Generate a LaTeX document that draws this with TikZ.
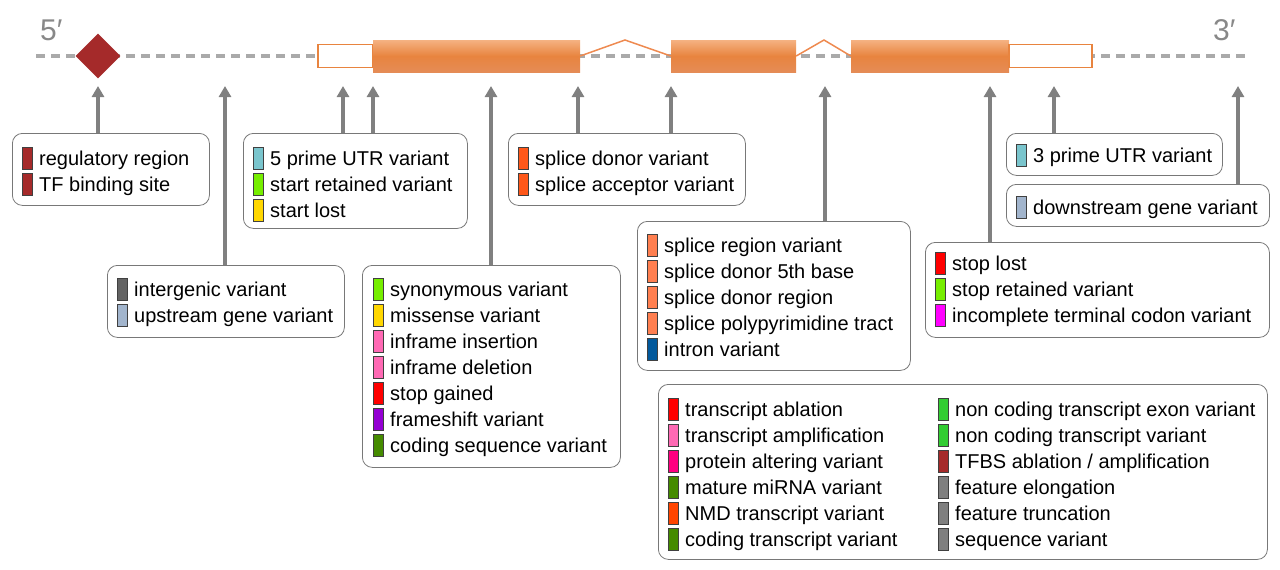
\documentclass[tikz,border=0pt]{standalone}
\usepackage{fontspec}
\setmainfont{Liberation Sans}
\usepackage{tikz}
\usetikzlibrary{arrows.meta}
\usetikzlibrary{shapes.geometric}
\usepackage{xcolor}
\definecolor{ColTrack}{RGB}{170,170,170}
\definecolor{ColPrime}{RGB}{136,136,136}
\definecolor{ColPointer}{RGB}{128,128,128}
\definecolor{ColFrame}{RGB}{120,120,120}
\definecolor{ColExon}{RGB}{232,132,63}
\definecolor{ColExonTop}{RGB}{245,178,130}
\definecolor{ColExonBot}{RGB}{229,140,86}
\definecolor{ColIntron}{RGB}{238,138,80}
\definecolor{ColReg}{RGB}{165,42,42}
\definecolor{ColUtr}{RGB}{122,197,205}
\definecolor{ColStart}{RGB}{118,238,0}
\definecolor{ColGold}{RGB}{255,215,0}
\definecolor{ColInter}{RGB}{99,99,99}
\definecolor{ColStream}{RGB}{162,181,205}
\definecolor{ColPink}{RGB}{255,105,180}
\definecolor{ColRed}{RGB}{255,0,0}
\definecolor{ColViolet}{RGB}{148,0,211}
\definecolor{ColCoding}{RGB}{69,139,0}
\definecolor{ColSplice}{RGB}{255,88,26}
\definecolor{ColCoral}{RGB}{255,127,80}
\definecolor{ColIntronVar}{RGB}{2,89,156}
\definecolor{ColMagenta}{RGB}{255,0,255}
\definecolor{ColProtein}{RGB}{255,0,128}
\definecolor{ColNmd}{RGB}{255,69,0}
\definecolor{ColNonCoding}{RGB}{50,205,50}
\definecolor{ColFeature}{RGB}{127,127,127}
\tikzstyle{Track}=[ColTrack,line width=3.5pt,dash pattern=on 9pt off 6pt]
\tikzstyle{Exon}=[rectangle,inner sep=0pt,top color=ColExonTop,bottom color=ColExonBot,
middle color=ColExon,minimum height=32pt]
\tikzstyle{Utr}=[rectangle,inner sep=0pt,draw=ColExon,fill=white,line width=1.5pt,minimum height=23pt]
\tikzstyle{Intron}=[ColIntron,line width=1.5pt]
\tikzstyle{Regulator}=[diamond,fill=ColReg,inner sep=0pt,minimum width=45pt,minimum height=45pt]
\tikzstyle{Prime}=[ColPrime,anchor=base west,inner sep=0pt,font=\fontsize{30}{30}\selectfont]
\tikzstyle{Pointer}=[ColPointer,line width=4pt,-{Triangle[length=11pt,width=12pt]}]
\tikzstyle{LegendBox}=[rectangle,draw=ColFrame,line width=0.8pt,rounded corners=10pt,
anchor=north west,inner sep=0pt]
\tikzstyle{Swatch}=[rectangle,draw=black!75,line width=0.7pt,inner sep=0pt,minimum width=10pt,
minimum height=22pt]
\tikzstyle{ItemText}=[anchor=base west,inner sep=0pt,font=\fontsize{20}{24}\selectfont]
\newcommand{\LegendItems}[4]{%
  \foreach \c/\t [count=\i] in {#4} {
    \node[Swatch,fill=\c](#1-s\i)at({#2+15},{#3+26*(\i-1)}){};
    \node[ItemText](#1-t\i)at({#2+27},{#3+7+26*(\i-1)}){\t};
  }}

\begin{document}
\begin{tikzpicture}[x=1pt,y=-1pt]
        \useasboundingbox (0,0) rectangle (1280,570);
        % gene track
        \coordinate (TrackL) at (36,56);
        \coordinate (TrackR) at (1245,56);
        \draw[Track](TrackL)--(TrackR);
        \node[Prime](FiveEnd)at(40,40){5′};
        \node[Prime](ThreeEnd)at(1213,40){3′};
        \node[Regulator](Motif)at(98,56){};
        \node[Utr,minimum width=55pt](UtrFive)at(345.5,56){};
        \node[Exon,minimum width=207pt](ExonA)at(476.5,56){};
        \node[Exon,minimum width=125pt](ExonB)at(733.5,56){};
        \node[Exon,minimum width=158pt](ExonC)at(930,56){};
        \node[Utr,minimum width=83pt](UtrThree)at(1050.5,56){};
        \coordinate (PeakA) at (625,40);
        \coordinate (PeakB) at (824,40);
        \draw[Intron](ExonA.east)--(PeakA)--(ExonB.west);
        \draw[Intron](ExonB.east)--(PeakB)--(ExonC.west);
        % arrow tips
        \coordinate (TipReg) at (98,86);
        \coordinate (TipInter) at (225,86);
        \coordinate (TipFiveA) at (343,86);
        \coordinate (TipFiveB) at (373,86);
        \coordinate (TipCoding) at (491,86);
        \coordinate (TipDonorA) at (578,86);
        \coordinate (TipDonorB) at (671,86);
        \coordinate (TipRegion) at (825,86);
        \coordinate (TipStop) at (990,86);
        \coordinate (TipThree) at (1054,86);
        \coordinate (TipDown) at (1238,86);
        % legend boxes
        \node[LegendBox,minimum width=197pt,minimum height=72pt](BoxReg)at(12,133){};
        \node[LegendBox,minimum width=224pt,minimum height=95pt](BoxFive)at(243,133){};
        \node[LegendBox,minimum width=237pt,minimum height=72pt](BoxInter)at(107,265){};
        \node[LegendBox,minimum width=258pt,minimum height=202pt](BoxCoding)at(362,265){};
        \node[LegendBox,minimum width=237pt,minimum height=72pt](BoxDonor)at(508,133){};
        \node[LegendBox,minimum width=273pt,minimum height=149pt](BoxRegion)at(637,221){};
        \node[LegendBox,minimum width=216pt,minimum height=42pt](BoxThree)at(1006,133){};
        \node[LegendBox,minimum width=263pt,minimum height=42pt](BoxDown)at(1006,184){};
        \node[LegendBox,minimum width=344pt,minimum height=95pt](BoxStop)at(925,242){};
        \node[LegendBox,minimum width=609pt,minimum height=175pt](BoxAll)at(658,384){};
        % pointers
        \draw[Pointer](BoxReg.north-|TipReg)--(TipReg);
        \draw[Pointer](BoxInter.north-|TipInter)--(TipInter);
        \draw[Pointer](BoxFive.north-|TipFiveA)--(TipFiveA);
        \draw[Pointer](BoxFive.north-|TipFiveB)--(TipFiveB);
        \draw[Pointer](BoxCoding.north-|TipCoding)--(TipCoding);
        \draw[Pointer](BoxDonor.north-|TipDonorA)--(TipDonorA);
        \draw[Pointer](BoxDonor.north-|TipDonorB)--(TipDonorB);
        \draw[Pointer](BoxRegion.north-|TipRegion)--(TipRegion);
        \draw[Pointer](BoxStop.north-|TipStop)--(TipStop);
        \draw[Pointer](BoxThree.north-|TipThree)--(TipThree);
        \draw[Pointer](BoxDown.north-|TipDown)--(TipDown);
        % legend entries
        \LegendItems{reg}{12}{158}{ColReg/regulatory region,ColReg/TF binding site}
        \LegendItems{five}{243}{158}{ColUtr/5 prime UTR variant,ColStart/start retained variant,
          ColGold/start lost}
        \LegendItems{inter}{107}{289}{ColInter/intergenic variant,ColStream/upstream gene variant}
        \LegendItems{coding}{363}{289}{ColStart/synonymous variant,ColGold/missense variant,
          ColPink/inframe insertion,ColPink/inframe deletion,ColRed/stop gained,
          ColViolet/frameshift variant,ColCoding/coding sequence variant}
        \LegendItems{donor}{508}{158}{ColSplice/splice donor variant,ColSplice/splice acceptor variant}
        \LegendItems{region}{637}{245}{ColCoral/splice region variant,ColCoral/splice donor 5th base,
          ColCoral/splice donor region,ColCoral/splice polypyrimidine tract,ColIntronVar/intron variant}
        \LegendItems{three}{1006}{155}{ColUtr/3 prime UTR variant}
        \LegendItems{down}{1006}{207}{ColStream/downstream gene variant}
        \LegendItems{stop}{925}{263}{ColRed/stop lost,ColStart/stop retained variant,
          ColMagenta/incomplete terminal codon variant}
        \LegendItems{allA}{658}{409}{ColRed/transcript ablation,ColPink/transcript amplification,
          ColProtein/protein altering variant,ColCoding/mature miRNA variant,
          ColNmd/NMD transcript variant,ColCoding/coding transcript variant}
        \LegendItems{allB}{928}{409}{ColNonCoding/non coding transcript exon variant,
          ColNonCoding/non coding transcript variant,ColReg/{TFBS ablation / amplification},
          ColFeature/feature elongation,ColFeature/feature truncation,ColFeature/sequence variant}
    \end{tikzpicture}
\end{document}
